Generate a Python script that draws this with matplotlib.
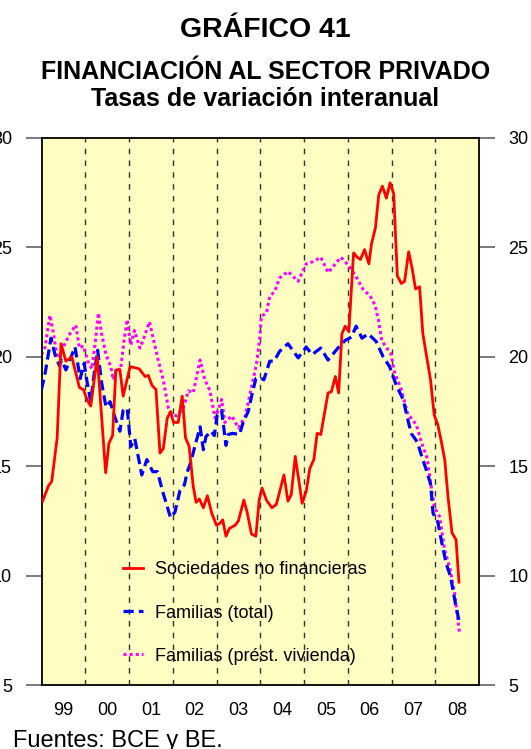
import matplotlib
matplotlib.use("Agg")
from matplotlib import pyplot as plt

plt.rcParams['font.family'] = ['Liberation Sans', 'DejaVu Sans']

# months counted from Jan 1999
year_labels = ['99', '00', '01', '02', '03', '04', '05', '06', '07', '08']

soc_t = [0.3, 1.9, 2.8, 4.3, 5.35, 6.7, 8.3, 10.4, 11.5, 12.6, 13.5, 15.3, 17.6, 18.5, 19.5,
         20.4, 21.5, 22.4, 24.3, 25.6, 26.8, 28.4, 29.3, 30.3, 31.4, 32.5, 33.4, 34.5, 35.4,
         36.2, 37.5, 38.6, 39.5, 40.5, 41.6, 42.4, 43.3, 44.4, 45.5, 46.7, 48.0, 49.0, 49.7,
         50.6, 51.5, 53.1, 54.0, 55.5, 56.4, 57.6, 58.8, 59.7, 60.5, 61.7, 63.2, 64.4, 66.5,
         67.6, 68.5, 69.6, 71.5, 72.6, 73.6, 74.7, 75.6, 76.6, 78.6, 79.5, 80.6, 81.5, 82.4,
         83.3, 84.3, 85.6, 86.6, 87.5, 88.6, 89.8, 90.5, 91.6, 92.5, 93.5, 94.6, 95.6, 96.6,
         97.6, 98.7, 99.6, 100.7, 101.7, 102.6, 103.7, 104.6, 105.8, 106.7, 107.7, 108.7,
         109.7, 110.6, 111.5, 112.6, 113.7, 114.5]
soc_v = [13.4, 14.1, 14.3, 16.3, 20.6, 19.8, 20.0, 18.6, 18.5, 18.0, 17.75, 20.0, 14.7, 16.05, 16.4,
         19.4, 19.4, 18.2, 19.55, 19.5, 19.45, 19.1, 19.15, 18.7, 18.5, 15.6, 15.8, 17.2, 17.5,
         17.0, 17.0, 18.2, 16.3, 15.9, 14.1, 13.35, 13.5, 13.1, 13.65, 12.85, 12.3, 12.4, 12.55,
         11.8, 12.15, 12.3, 12.5, 13.45, 12.9, 11.9, 11.8, 13.45, 14.0, 13.45, 13.1, 13.25, 14.6,
         13.4, 13.7, 15.45, 13.3, 13.85, 14.9, 15.3, 16.5, 16.45, 18.35, 18.4, 19.1, 18.35, 21.05,
         21.4, 21.15, 24.75, 24.55, 24.45, 24.9, 24.25, 25.15, 25.9, 27.4, 27.8, 27.25, 27.95, 27.45,
         23.7, 23.35, 23.45, 24.8, 24.0, 23.1, 23.2, 21.05, 19.85, 18.95, 17.35, 16.9,
         16.1, 15.3, 13.6, 11.95, 11.65, 9.7]

fam_t = [0, 1, 2.6, 3.7, 4.9, 5.5, 6.7, 8.0, 9.2, 10.6, 11.7, 12.4, 13.5, 14.5, 15.4, 16.5, 17.7,
         18.8, 19.9, 21.5, 22.4, 23.5, 24.5, 25.6, 27.5, 28.9, 30.5, 31.8, 33.4, 35.4, 36.6, 38.0,
         39.2, 40.0, 40.9, 41.9, 43.5, 44.4, 45.1, 46.5, 47.4, 48.2, 49.4, 50.6, 51.2, 52.4, 54.3,
         55.4, 56.7, 57.9, 58.8, 59.8, 61.0, 62.6, 63.8, 65.3, 67.6, 70.4, 72.6, 74.2, 76.6, 78.6,
         81.3, 83.3, 85.0, 86.3, 87.9, 89.6, 91.8, 93.7, 95.5, 97.3, 99.2, 100.3, 101.4, 103.1,
         104.2, 105.5, 106.7, 107.4, 108.7, 109.8, 111.0, 112.2, 113.5, 114.7]
fam_v = [18.5, 19.25, 20.85, 20.1, 19.6, 19.85, 19.4, 19.95, 20.45, 19.0, 19.7, 18.95, 17.95, 19.3,
         20.3, 18.8, 17.7, 17.95, 17.35, 16.6, 17.55, 17.65, 15.9, 16.25, 14.6, 15.3, 14.75, 14.75,
         13.75, 12.65, 12.9, 13.9, 14.15, 14.75, 15.15, 15.8, 16.8, 15.75, 16.35, 16.6, 16.4, 17.35,
         17.55, 15.95, 16.45, 16.5, 16.45, 17.05, 17.5, 18.4, 19.0, 19.05, 18.95, 19.8, 19.8, 20.25,
         20.6, 19.95, 20.45, 20.1, 20.4, 19.85, 20.4, 20.75, 20.9, 21.4, 20.85, 21.05, 20.7, 20.0,
         19.55, 18.7, 18.05, 17.25, 16.5, 16.1, 15.5, 14.85, 14.2, 12.85, 12.45, 11.5, 10.55, 9.95,
         8.75, 7.8]

viv_t = [0, 1.0, 2.3, 3.3, 4.3, 5.5, 6.4, 7.8, 9.4, 10.4, 11.5, 12.7, 13.8, 14.7, 15.6, 16.5, 17.7,
         19.0, 19.7, 20.6, 21.7, 22.6, 23.5, 24.5, 25.5, 27.0, 28.4, 29.6, 30.7, 32.0, 33.4, 34.8,
         35.4, 37.0, 38.9, 40.3, 41.6, 43.5, 44.8, 46.2, 47.6, 48.5, 49.4, 50.3, 52.2, 54.0, 55.8,
         57.2, 59.0, 59.9, 60.3, 61.7, 62.6, 64.0, 65.3, 67.6, 70.4, 72.6, 74.5, 76.6, 78.6, 82.1,
         84.1, 86.0, 88.3, 90.1, 91.5, 92.4, 93.3, 94.7, 95.8, 96.9, 98.7, 100.5, 101.4, 102.8,
         104.2, 105.8, 106.9, 107.8, 109.2, 110.6, 112.0, 113.3, 114.7]
viv_v = [20.1, 20.45, 21.9, 21.05, 19.95, 20.15, 20.6, 21.05, 21.45, 20.4, 20.5, 19.8, 19.45, 20.6,
         22.0, 21.05, 20.1, 19.55, 18.95, 19.45, 19.4, 20.7, 21.7, 20.55, 21.2, 20.4, 21.0, 21.6,
         20.8, 19.85, 18.95, 17.65, 17.45, 17.3, 17.65, 18.45, 18.35, 19.85, 18.95, 18.45, 17.2,
         17.6, 18.05, 17.0, 17.3, 16.75, 17.25, 18.3, 19.7, 20.9, 21.85, 22.0, 22.75, 23.0, 23.6,
         23.9, 23.45, 24.25, 24.35, 24.55, 23.85, 24.55, 24.2, 23.75, 23.05, 22.8, 22.35, 21.7,
         20.75, 20.4, 20.15, 19.25, 18.5, 17.35, 17.2, 16.9, 16.1, 15.35, 14.05, 13.1, 12.7, 11.15,
         10.35, 9.2, 7.3]

fig = plt.figure(figsize=(5.31, 7.49), dpi=100)
ax = fig.add_axes([41.5 / 531, 1 - 685 / 749, 437.5 / 531, 547 / 749])
ax.set_facecolor('#FFFDC2')

for k in range(1, 10):
    ax.axvline(12 * k, color='#333333', lw=1.0, linestyle=(0, (4, 4.5)), zorder=1)

ax.plot(soc_t, soc_v, color='#FF0000', lw=2.0, label='Sociedades no financieras', zorder=4)
ax.plot(fam_t, fam_v, color='#0000FF', lw=2.3, linestyle=(0, (3.2, 1.6)),
        dash_capstyle='butt', label='Familias (total)', zorder=3)
ax.plot(viv_t, viv_v, color='#FF00FF', lw=2.2, linestyle=(0, (1, 1)),
        dash_capstyle='butt', label='Familias (prést. vivienda)', zorder=2)

ax.set_xlim(0, 120)
ax.set_ylim(5, 30)
ax.set_yticks([5, 10, 15, 20, 25, 30])
ax.set_xticks([12 * k + 6 for k in range(10)])
ax.set_xticklabels(year_labels)
ax.tick_params(axis='x', length=0, pad=12.5, labelsize=13)
ax.tick_params(axis='y', left=True, right=True, labelleft=True, labelright=True,
               direction='out', length=11.5, width=1.1, color='#555555', pad=9.7, labelsize=13)
for s in ax.spines.values():
    s.set_linewidth(1.3)
    s.set_color('black')

ax.legend(loc='center left', bbox_to_anchor=(0.186, 0.1316), frameon=False, fontsize=13,
          handlelength=1.1, handletextpad=0.66, labelspacing=1.45, borderpad=0, borderaxespad=0)

fig.text(0.5, 1 - 30 / 749, 'GRÁFICO 41', ha='center', va='center', fontsize=20.5, fontweight='bold')
fig.text(0.5, 1 - 72 / 749, 'FINANCIACIÓN AL SECTOR PRIVADO', ha='center', va='center',
         fontsize=18, fontweight='bold')
fig.text(0.5, 1 - 98.5 / 749, 'Tasas de variación interanual', ha='center', va='center',
         fontsize=18, fontweight='bold')
fig.text(13 / 531, 1 - 747 / 749, 'Fuentes: BCE y BE.', ha='left', va='baseline', fontsize=17)

fig.savefig('out.png', dpi=100)
